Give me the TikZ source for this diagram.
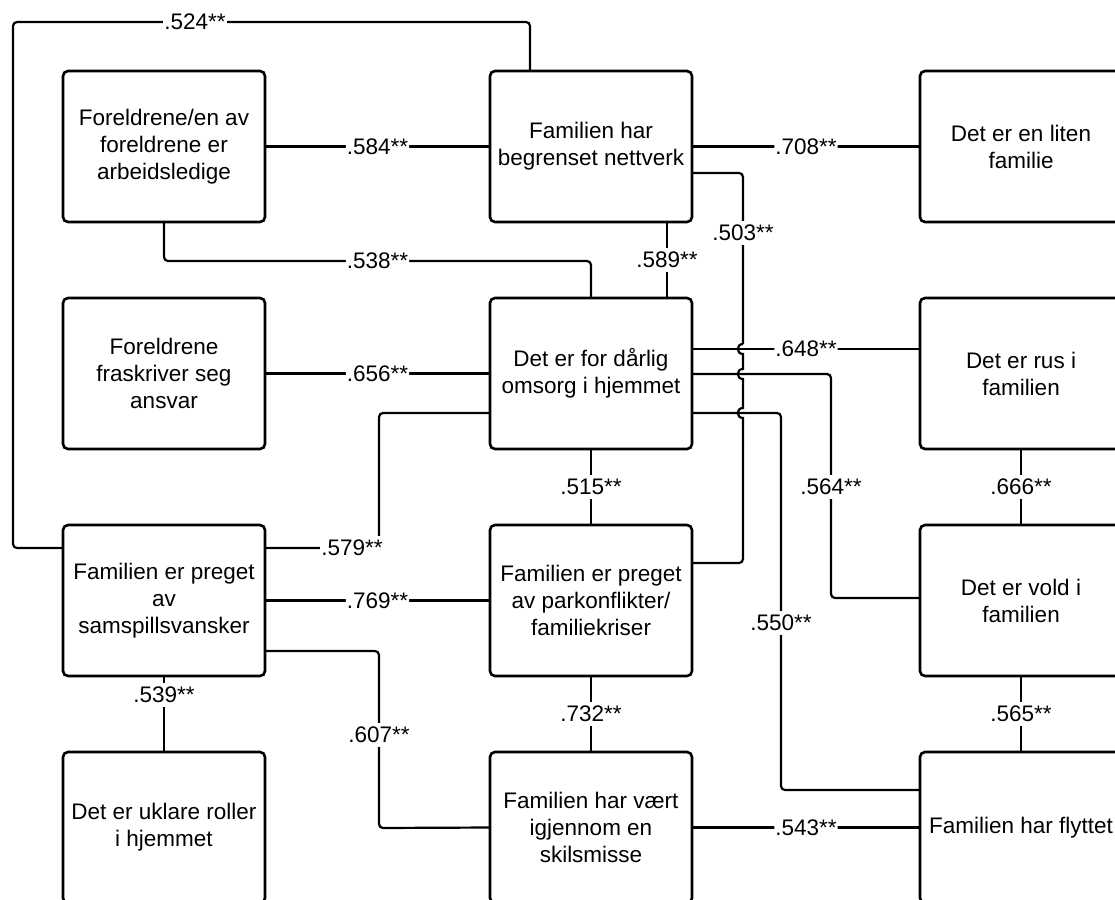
\documentclass[tikz,border=0pt]{standalone}
\usepackage{fontspec}
\setmainfont{Liberation Sans}
\usetikzlibrary{calc}
\tikzset{
  box/.style={draw, line width=2.6pt, rounded corners=5pt, minimum width=202pt,
    minimum height=151pt, anchor=north west, align=center, inner sep=0pt,
    outer sep=0pt, font=\fontsize{22.5}{27}\selectfont},
  conn/.style={line width=2.2pt, rounded corners=4pt},
  lab/.style={fill=white, inner xsep=1pt, inner ysep=4pt,
    font=\fontsize{22.5}{27}\selectfont},
}
\begin{document}
\begin{tikzpicture}[x=1pt,y=-1pt]
\useasboundingbox (0,0) rectangle (1115,899);
\fill[white] (0,0) rectangle (1115,899);
\clip (0,0) rectangle (1115,899);
% boxes
\node[box] (A) at (63,71) {Foreldrene/en av\\foreldrene er\\arbeidsledige};
\node[box] (B) at (490,71) {Familien har\\begrenset nettverk};
\node[box] (C) at (920,71) {Det er en liten\\familie};
\node[box] (D) at (63,298) {Foreldrene\\fraskriver seg\\ansvar};
\node[box] (E) at (490,298) {Det er for dårlig\\omsorg i hjemmet};
\node[box] (F) at (920,298) {Det er rus i\\familien};
\node[box] (G) at (63,525) {Familien er preget\\av\\samspillsvansker};
\node[box] (H) at (490,525) {Familien er preget\\av parkonflikter/\\familiekriser};
\node[box] (I) at (920,525) {Det er vold i\\familien};
\node[box] (J) at (63,752) {Det er uklare roller\\i hjemmet};
\node[box] (K) at (490,752) {Familien har vært\\igjennom en\\skilsmisse};
\node[box] (L) at (920,752) {Familien har flyttet};
% connectors
\draw[conn] ($(B.north west)+(40,0)$) |- (13,22) |- ($(G.north west)+(0,23)$);
\node[lab] (l524) at (195,22) {.524**};
\draw[conn] (A.east) -- node[lab]{.584**} (B.west);
\draw[conn] (B.east) -- node[lab]{.708**} (C.west);
\draw[conn] (A.south) -- ++(0,39) -| node[lab,pos=0.25]{.538**} (E.north);
\draw[conn] ($(B.south)+(76,0)$) -- node[lab]{.589**} ($(E.north)+(76,0)$);
% .503 with hops
\draw[conn] ($(B.north east)+(0,102)$) -- (743,173) -- (743,344);
\draw[conn,sharp corners] (743,344) .. controls (736,344) and (736,354) .. (743,354)
  -- (743,369) .. controls (736,369) and (736,379) .. (743,379)
  -- (743,408) .. controls (736,408) and (736,418) .. (743,418) -- (743,440);
\draw[conn] (743,440) -- (743,563) -- ($(H.north east)+(0,38)$);
\node[lab] (l503) at (743,233) {.503**};
\draw[conn] (D.east) -- node[lab]{.656**} (E.west);
\draw[conn] ($(E.north east)+(0,51)$) -- node[lab]{.648**} ($(F.north west)+(0,51)$);
\draw[conn] ($(E.north east)+(0,76)$) -| (831,598) -- ($(I.north west)+(0,73)$);
\node[lab] (l564) at (831,487) {.564**};
\draw[conn] ($(E.north east)+(0,115)$) -| (781,790) -- ($(L.north west)+(0,38)$);
\node[lab] (l550) at (781,623) {.550**};
\draw[conn] ($(E.north west)+(0,115)$) -| (379,548) -- ($(G.north east)+(0,23)$);
\node[lab] (l579) at (352,548) {.579**};
\draw[conn] (G.east) -- node[lab]{.769**} (H.west);
\draw[conn] (E.south) -- node[lab]{.515**} (H.north);
\draw[conn] ($(G.north east)+(0,126)$) -| (379,828) -- (K.west);
\node[lab] (l607) at (379,735) {.607**};
\draw[conn] (G.south) -- node[lab,pos=0.25]{.539**} (J.north);
\draw[conn] (H.south) -- node[lab]{.732**} (K.north);
\draw[conn] (K.east) -- node[lab]{.543**} (L.west);
\draw[conn] (F.south) -- node[lab]{.666**} (I.north);
\draw[conn] (I.south) -- node[lab]{.565**} (L.north);
\end{tikzpicture}
\end{document}
